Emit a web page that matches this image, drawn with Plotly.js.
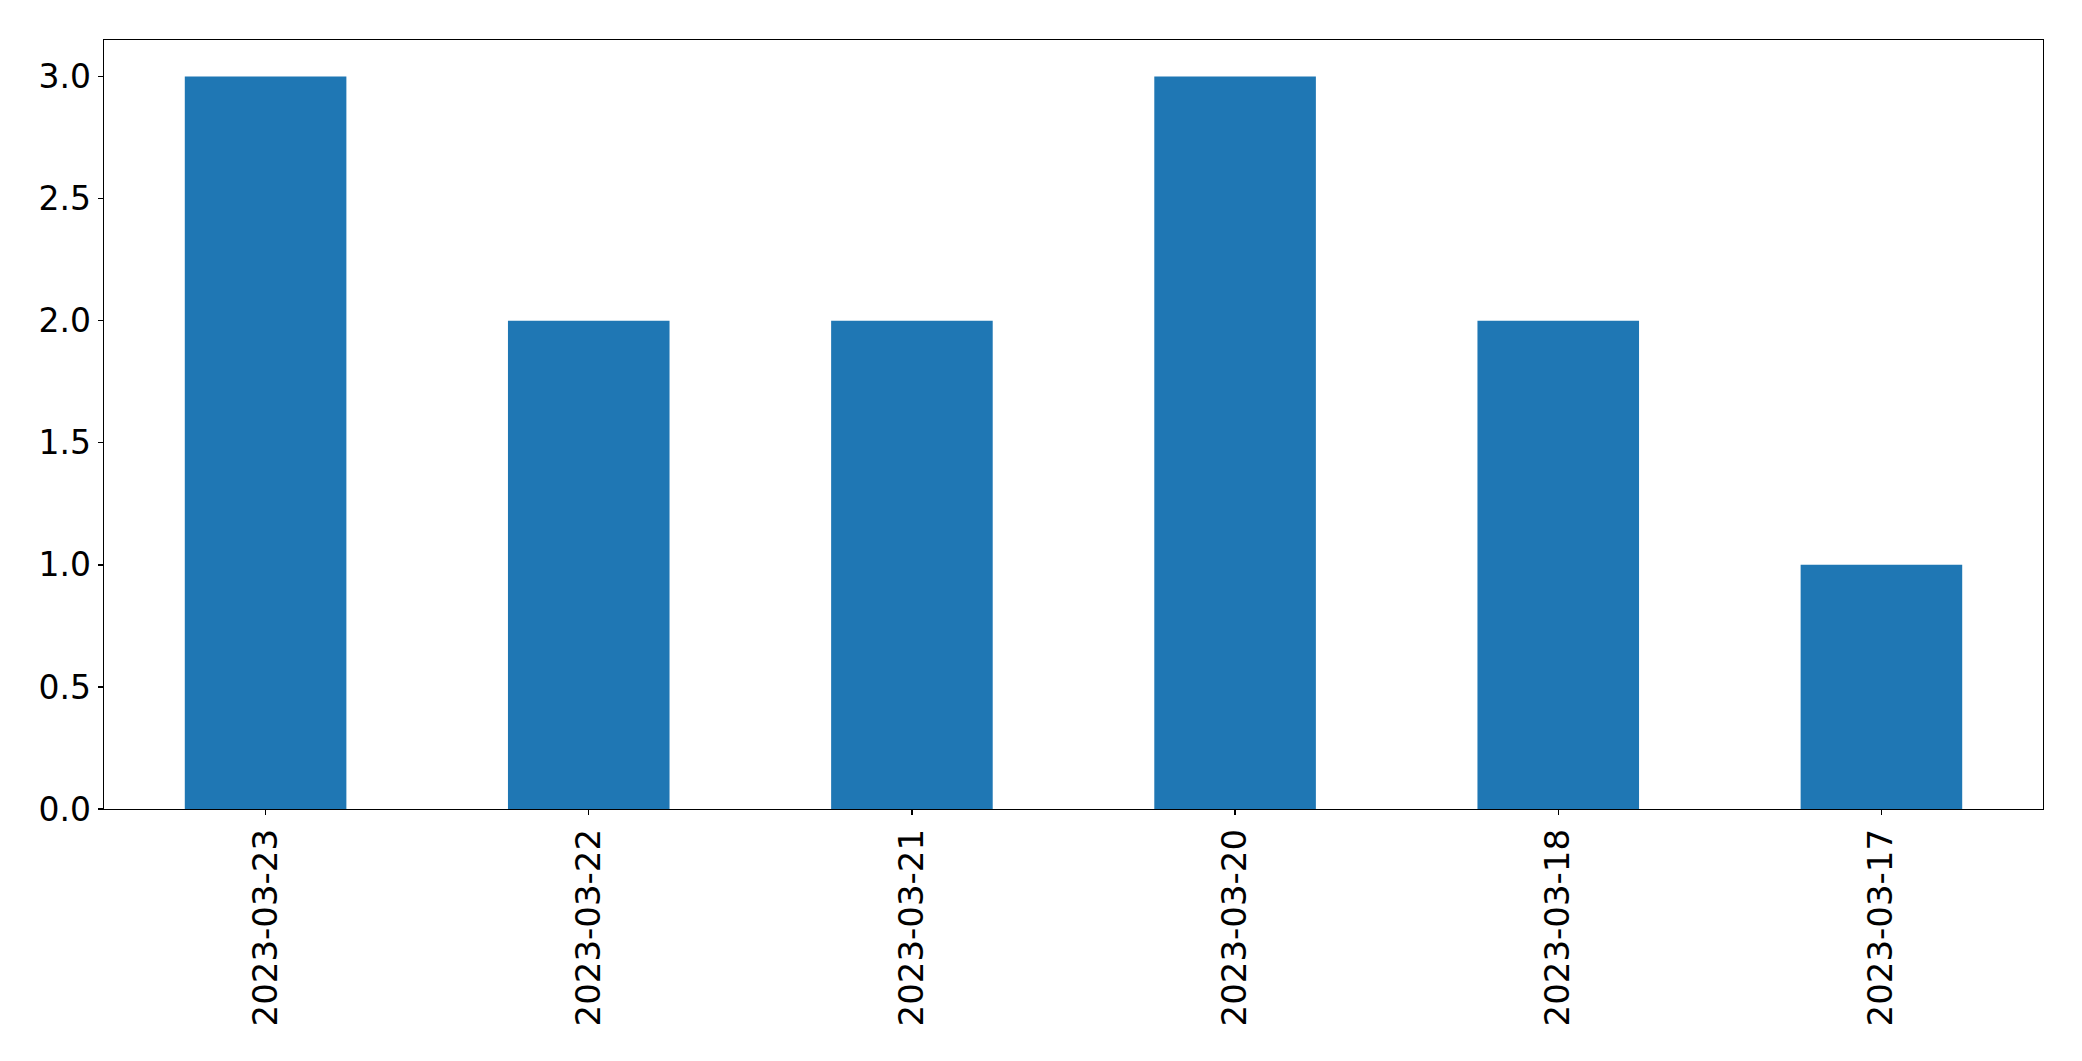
<!DOCTYPE html>
<html>
<head>
<meta charset="utf-8">
<script src="https://cdn.plot.ly/plotly-3.0.1.min.js"></script>
<style>html,body{margin:0;padding:0;background:#fff;}#chart{width:2082px;height:1061px;}</style>
</head>
<body>
<div id="chart"></div>
<script>
const categories = ["2023-03-23", "2023-03-22", "2023-03-21", "2023-03-20", "2023-03-18", "2023-03-17"];
const values = [3, 2, 2, 3, 2, 1];
const yTicks = [0, 0.5, 1, 1.5, 2, 2.5, 3];
const yTickLabels = ["0.0", "0.5", "1.0", "1.5", "2.0", "2.5", "3.0"];

const trace = {
  type: "bar",
  x: categories,
  y: values,
  width: 0.5,
  marker: {color: "#1f77b4", line: {width: 0}},
  hoverinfo: "x+y"
};

const layout = {
  width: 2082,
  height: 1061,
  margin: {l: 104, r: 39, t: 40, b: 252, pad: 0},
  paper_bgcolor: "#ffffff",
  plot_bgcolor: "#ffffff",
  showlegend: false,
  font: {family: "DejaVu Sans", color: "#000000", size: 33},
  xaxis: {
    type: "category",
    range: [-0.5, 5.5],
    tickangle: -90,
    ticks: "outside",
    ticklen: 5,
    tickwidth: 1.3,
    tickcolor: "#000",
    showline: true,
    linecolor: "#000",
    linewidth: 1.3,
    mirror: true,
    showgrid: false,
    zeroline: false,
    tickfont: {family: "DejaVu Sans", size: 34, color: "#000"}
  },
  yaxis: {
    range: [0, 3.15],
    tickmode: "array",
    tickvals: yTicks,
    ticktext: yTickLabels,
    ticks: "outside",
    ticklen: 5,
    tickwidth: 1.3,
    tickcolor: "#000",
    showline: true,
    linecolor: "#000",
    linewidth: 1.3,
    mirror: true,
    showgrid: false,
    zeroline: false,
    tickfont: {family: "DejaVu Sans", size: 33, color: "#000"}
  }
};

Plotly.newPlot("chart", [trace], layout, {displayModeBar: false, staticPlot: true});
</script>
</body>
</html>
